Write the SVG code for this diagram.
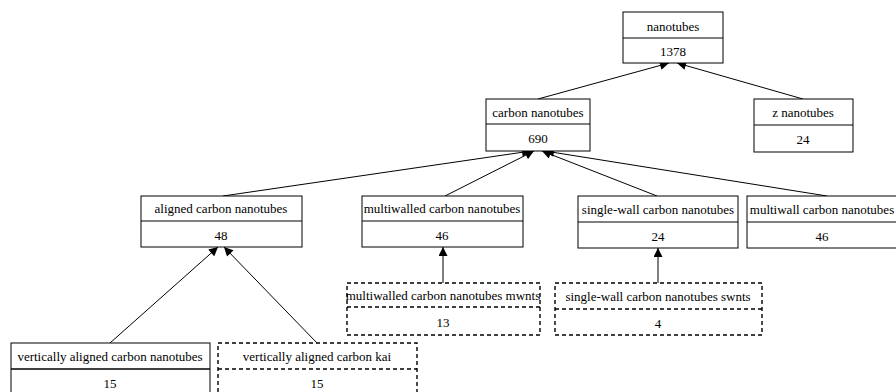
<svg xmlns="http://www.w3.org/2000/svg" width="896" height="392" viewBox="0 0 896 392">
<style>
.box{fill:#fff;stroke:#000;stroke-width:1}
.dash{fill:#fff;stroke:#000;stroke-width:1.4;stroke-dasharray:4,3}
.t{font-family:"Liberation Serif","Times New Roman",serif;font-size:13px;text-anchor:middle;fill:#000}
.e{stroke:#000;stroke-width:1;fill:none;marker-end:url(#ah)}
</style>
<defs>
<marker id="ah" viewBox="0 0 10 10" refX="10" refY="5" markerWidth="10" markerHeight="9" markerUnits="userSpaceOnUse" orient="auto">
<path d="M0,0 L10,5 L0,10 z" fill="#000"/>
</marker>
</defs>
<rect width="896" height="392" fill="#fff"/>
<g id="connectors">
<line class="e" x1="538" y1="99" x2="669" y2="63"/>
<line class="e" x1="803" y1="99" x2="677" y2="63"/>
<line class="e" x1="223" y1="196" x2="531" y2="151"/>
<line class="e" x1="445" y1="196" x2="534" y2="151"/>
<line class="e" x1="657" y1="196" x2="542" y2="151"/>
<line class="e" x1="827" y1="196" x2="545" y2="151"/>
<line class="e" x1="110" y1="343" x2="218" y2="247"/>
<line class="e" x1="317" y1="343" x2="224" y2="247"/>
<line class="e" x1="443" y1="283" x2="443" y2="247"/>
<line class="e" x1="658" y1="283" x2="658" y2="248"/>
</g>
<g id="n_nanotubes">
<rect class="box" x="623" y="12" width="100" height="51"/>
<line x1="623" y1="38" x2="723" y2="38" stroke="#000"/>
<text class="t" x="673" y="31">nanotubes</text>
<text class="t" x="673" y="56">1378</text>
</g>
<g id="n_carbon">
<rect class="box" x="486" y="99" width="104" height="52"/>
<line x1="486" y1="124" x2="590" y2="124" stroke="#000"/>
<text class="t" x="538" y="117">carbon nanotubes</text>
<text class="t" x="538" y="143">690</text>
</g>
<g id="n_z">
<rect class="box" x="754" y="99" width="99" height="53"/>
<line x1="754" y1="125" x2="853" y2="125" stroke="#000"/>
<text class="t" x="803" y="117">z nanotubes</text>
<text class="t" x="803" y="144">24</text>
</g>
<g id="n_aligned">
<rect class="box" x="141" y="196" width="161" height="51"/>
<line x1="141" y1="221" x2="302" y2="221" stroke="#000"/>
<text class="t" x="221" y="213">aligned carbon nanotubes</text>
<text class="t" x="221" y="240">48</text>
</g>
<g id="n_multiwalled">
<rect class="box" x="362" y="196" width="161" height="51"/>
<line x1="362" y1="221" x2="523" y2="221" stroke="#000"/>
<text class="t" x="442" y="213">multiwalled carbon nanotubes</text>
<text class="t" x="442" y="240">46</text>
</g>
<g id="n_singlewall">
<rect class="box" x="578" y="196" width="160" height="52"/>
<line x1="578" y1="222" x2="738" y2="222" stroke="#000"/>
<text class="t" x="658" y="214">single-wall carbon nanotubes</text>
<text class="t" x="658" y="241">24</text>
</g>
<g id="n_multiwall">
<rect class="box" x="747" y="196" width="160" height="52"/>
<line x1="747" y1="222" x2="907" y2="222" stroke="#000"/>
<text class="t" x="822" y="214">multiwall carbon nanotubes</text>
<text class="t" x="822" y="241">46</text>
</g>
<g id="n_mwnts">
<rect class="dash" x="347" y="283" width="193" height="52"/>
<line x1="347" y1="307" x2="540" y2="307" stroke="#000" stroke-width="1.4" stroke-dasharray="4,3"/>
<text class="t" x="443" y="300">multiwalled carbon nanotubes mwnts</text>
<text class="t" x="443" y="327">13</text>
</g>
<g id="n_swnts">
<rect class="dash" x="555" y="283" width="207" height="52"/>
<line x1="555" y1="309" x2="762" y2="309" stroke="#000" stroke-width="1.4" stroke-dasharray="4,3"/>
<text class="t" x="658" y="301">single-wall carbon nanotubes swnts</text>
<text class="t" x="658" y="328">4</text>
</g>
<g id="n_vertical">
<rect class="box" x="11" y="343" width="199" height="60"/>
<line x1="11" y1="369" x2="210" y2="369" stroke="#000" stroke-width="1.4"/>
<text class="t" x="110" y="361">vertically aligned carbon nanotubes</text>
<text class="t" x="110" y="388">15</text>
</g>
<g id="n_kai">
<rect class="dash" x="218" y="343" width="199" height="60"/>
<line x1="218" y1="369" x2="417" y2="369" stroke="#000" stroke-width="1.4" stroke-dasharray="4,3"/>
<text class="t" x="317" y="361">vertically aligned carbon kai</text>
<text class="t" x="317" y="388">15</text>
</g>
</svg>
